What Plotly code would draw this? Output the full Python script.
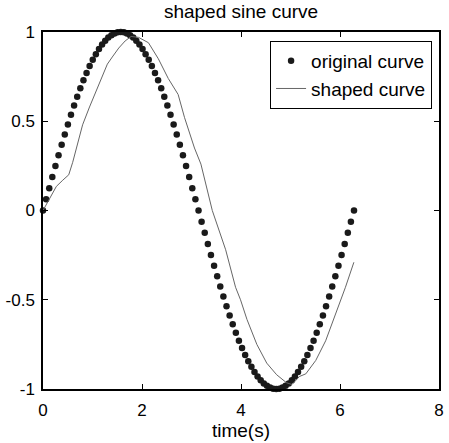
import plotly.graph_objects as go

# ---- data ----
time_s = [0.000, 0.063, 0.126, 0.188, 0.251, 0.314, 0.377, 0.440, 0.503, 0.565,
          0.628, 0.691, 0.754, 0.817, 0.880, 0.942, 1.005, 1.068, 1.131, 1.194,
          1.257, 1.319, 1.382, 1.445, 1.508, 1.571, 1.634, 1.696, 1.759, 1.822,
          1.885, 1.948, 2.011, 2.073, 2.136, 2.199, 2.262, 2.325, 2.388, 2.450,
          2.513, 2.576, 2.639, 2.702, 2.765, 2.827, 2.890, 2.953, 3.016, 3.079,
          3.142, 3.204, 3.267, 3.330, 3.393, 3.456, 3.519, 3.581, 3.644, 3.707,
          3.770, 3.833, 3.896, 3.958, 4.021, 4.084, 4.147, 4.210, 4.273, 4.335,
          4.398, 4.461, 4.524, 4.587, 4.650, 4.712, 4.775, 4.838, 4.901, 4.964,
          5.027, 5.089, 5.152, 5.215, 5.278, 5.341, 5.404, 5.466, 5.529, 5.592,
          5.655, 5.718, 5.781, 5.843, 5.906, 5.969, 6.032, 6.095, 6.158, 6.220,
          6.283]

original_curve = [0.000, 0.063, 0.125, 0.187, 0.249, 0.309, 0.368, 0.426, 0.482, 0.536,
                  0.588, 0.637, 0.685, 0.729, 0.771, 0.809, 0.844, 0.876, 0.905, 0.930,
                  0.951, 0.969, 0.982, 0.992, 0.998, 1.000, 0.998, 0.992, 0.982, 0.969,
                  0.951, 0.930, 0.905, 0.876, 0.844, 0.809, 0.771, 0.729, 0.685, 0.637,
                  0.588, 0.536, 0.482, 0.426, 0.368, 0.309, 0.249, 0.187, 0.125, 0.063,
                  0.000, -0.063, -0.125, -0.187, -0.249, -0.309, -0.368, -0.426, -0.482, -0.536,
                  -0.588, -0.637, -0.685, -0.729, -0.771, -0.809, -0.844, -0.876, -0.905, -0.930,
                  -0.951, -0.969, -0.982, -0.992, -0.998, -1.000, -0.998, -0.992, -0.982, -0.969,
                  -0.951, -0.930, -0.905, -0.876, -0.844, -0.809, -0.771, -0.729, -0.685, -0.637,
                  -0.588, -0.536, -0.482, -0.426, -0.368, -0.309, -0.249, -0.187, -0.125, -0.063,
                  0.000]

shaped_t = [0.00, 0.14, 0.27, 0.40, 0.52, 0.60, 0.70, 0.80, 0.94, 1.07,
            1.20, 1.30, 1.40, 1.53, 1.66, 1.78, 1.93, 2.13, 2.33, 2.53,
            2.73, 2.86, 3.06, 3.19, 3.42, 3.69, 3.89, 3.99, 4.12, 4.32,
            4.52, 4.72, 4.92, 5.03, 5.18, 5.31, 5.51, 5.71, 5.91, 6.11,
            6.28]
shaped_curve = [0.00, 0.07, 0.135, 0.17, 0.20, 0.27, 0.37, 0.48, 0.58, 0.67,
                0.76, 0.82, 0.86, 0.91, 0.95, 0.975, 0.97, 0.94, 0.85, 0.74,
                0.65, 0.52, 0.35, 0.26, 0.00, -0.22, -0.43, -0.50, -0.61, -0.75,
                -0.855, -0.92, -0.965, -0.975, -0.93, -0.915, -0.84, -0.73, -0.58, -0.43,
                -0.29]

x_ticks = [0, 2, 4, 6, 8]
x_tick_text = ["0", "2", "4", "6", "8"]
y_ticks = [-1, -0.5, 0, 0.5, 1]
y_tick_text = ["-1", "-0.5", "0", "0.5", "1"]

FONT = "Liberation Sans, Arial, Helvetica, sans-serif"

fig = go.Figure()
fig.add_trace(go.Scatter(
    x=time_s, y=original_curve, mode="markers", name="original curve",
    marker=dict(color="#1a1a1a", size=6.5, line=dict(width=0)),
    cliponaxis=False,
))
fig.add_trace(go.Scatter(
    x=shaped_t, y=shaped_curve, mode="lines", name="shaped curve",
    line=dict(color="#666666", width=1),
    cliponaxis=False,
))

axis_common = dict(
    showgrid=False, zeroline=False, showline=True, linecolor="black", linewidth=1.5,
    mirror="ticks", ticks="inside", ticklen=5, tickwidth=1, tickcolor="black",
    tickfont=dict(family=FONT, size=17, color="black"),
)

fig.update_layout(
    width=449, height=443,
    margin=dict(l=43, r=5, t=32, b=54),
    paper_bgcolor="white", plot_bgcolor="white",
    font=dict(family=FONT, color="black"),
    title=dict(text="shaped sine curve", x=0.5, xanchor="center", xref="paper",
               y=1 - 11 / 443, yanchor="middle",
               font=dict(family=FONT, size=19, color="black")),
    xaxis=dict(range=[0, 8], tickvals=x_ticks, ticktext=x_tick_text,
               ticklabelstandoff=5,
               title=dict(text="time(s)", font=dict(family=FONT, size=19, color="black"),
                          standoff=1),
               **axis_common),
    yaxis=dict(range=[-1, 1], tickvals=y_ticks, ticktext=y_tick_text,
               ticklabelstandoff=3,
               **axis_common),
    legend=dict(x=0.9825, y=0.975, xanchor="right", yanchor="top",
                bgcolor="white", bordercolor="black", borderwidth=1,
                font=dict(family=FONT, size=19, color="black"),
                tracegroupgap=0, itemwidth=30),
    showlegend=True,
)

fig.write_html("out.html")
